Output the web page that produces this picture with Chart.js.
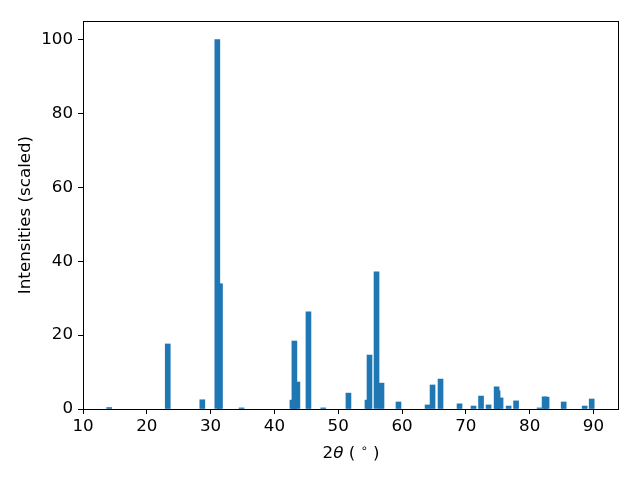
<!DOCTYPE html>
<html>
<head>
<meta charset="utf-8">
<script src="https://cdn.jsdelivr.net/npm/chart.js@4"></script>
<style>
html,body{margin:0;padding:0;background:#fff;}
#wrap{width:640px;height:480px;}
</style>
</head>
<body>
<div id="wrap"><canvas id="c" width="640" height="480"></canvas></div>
<script>
const twoTheta = [14.1, 23.28, 28.7, 31.05, 31.47, 34.85, 42.82, 43.13, 43.6, 45.33,
  47.65, 51.6, 54.58, 54.9, 56.0, 56.78, 59.44, 64.0, 64.78, 66.03,
  69.01, 71.2, 72.38, 73.56, 74.82, 74.97, 75.44, 76.7, 77.87, 81.56,
  82.34, 82.65, 85.33, 88.62, 89.72];
const intensity = [0.4, 17.6, 2.5, 100, 33.9, 0.3, 2.4, 18.4, 7.3, 26.3,
  0.3, 4.3, 2.4, 14.6, 37.1, 7.0, 1.9, 1.1, 6.5, 8.1,
  1.4, 0.8, 3.5, 1.1, 6.0, 4.9, 3.0, 0.8, 2.2, 0.3,
  3.3, 3.2, 1.9, 0.8, 2.7];
const xTicks = [10, 20, 30, 40, 50, 60, 70, 80, 90];
const yTicks = [0, 20, 40, 60, 80, 100];

// draw smaller peaks first so taller ones sit on top
const points = twoTheta.map((x, i) => ({x: x, y: intensity[i]}))
  .sort((a, b) => a.y - b.y);

const FS = 16.7;
Chart.defaults.font.family = '"DejaVu Sans"';
Chart.defaults.font.size = FS;
Chart.defaults.color = '#000';

const framePlugin = {
  id: 'frame',
  afterDraw(chart) {
    const ctx = chart.ctx, a = chart.chartArea;
    ctx.save();
    ctx.strokeStyle = '#000';
    ctx.lineWidth = 1;
    ctx.strokeRect(Math.round(a.left) + 0.5, Math.round(a.top) + 0.5,
      Math.round(a.right - a.left) - 1, Math.round(a.bottom - a.top));
    // x axis title: 2θ (°)
    const parts = [
      {t: '2', f: FS + 'px "DejaVu Sans"', dy: 0},
      {t: 'θ', f: 'italic ' + FS + 'px "DejaVu Sans"', dy: 0},
      {t: ' ( ', f: FS + 'px "DejaVu Sans"', dy: 0},
      {t: '∘', f: '11.5px "DejaVu Sans"', dy: -6},
      {t: ' )', f: FS + 'px "DejaVu Sans"', dy: 0}
    ];
    let total = 0;
    parts.forEach(p => { ctx.font = p.f; p.w = ctx.measureText(p.t).width; total += p.w; });
    let x = (a.left + a.right) / 2 - total / 2;
    const base = 458;
    ctx.fillStyle = '#000';
    ctx.textBaseline = 'alphabetic';
    ctx.textAlign = 'left';
    parts.forEach(p => { ctx.font = p.f; ctx.fillText(p.t, x, base + p.dy); x += p.w; });
    ctx.restore();
  }
};

new Chart(document.getElementById('c'), {
  type: 'bar',
  data: {
    datasets: [{
      data: points,
      backgroundColor: '#1f77b4',
      borderWidth: 0,
      barThickness: 5
    }]
  },
  options: {
    responsive: false,
    animation: false,
    layout: {padding: {left: 0, top: 21, right: 21, bottom: 0}},
    plugins: {legend: {display: false}, tooltip: {enabled: false}},
    scales: {
      x: {
        type: 'linear',
        min: 10, max: 94,
        offset: false,
        grid: {display: true, drawOnChartArea: false, drawTicks: true, tickLength: 5, color: '#000', offset: false},
        border: {display: false},
        ticks: {stepSize: 10, padding: 3, maxRotation: 0, autoSkip: false},
        afterBuildTicks(axis) { axis.ticks = xTicks.map(v => ({value: v})); },
        afterFit(axis) { axis.height = 71; }
      },
      y: {
        min: 0, max: 105,
        grid: {display: true, drawOnChartArea: false, drawTicks: true, tickLength: 5, color: '#000'},
        border: {display: false},
        ticks: {stepSize: 20, padding: 5},
        afterBuildTicks(axis) { axis.ticks = yTicks.map(v => ({value: v})); },
        title: {display: true, text: 'Intensities (scaled)', padding: {top: 16, bottom: 0}},
        afterFit(axis) { axis.width = 83; }
      }
    }
  },
  plugins: [framePlugin]
});
</script>
</body>
</html>
